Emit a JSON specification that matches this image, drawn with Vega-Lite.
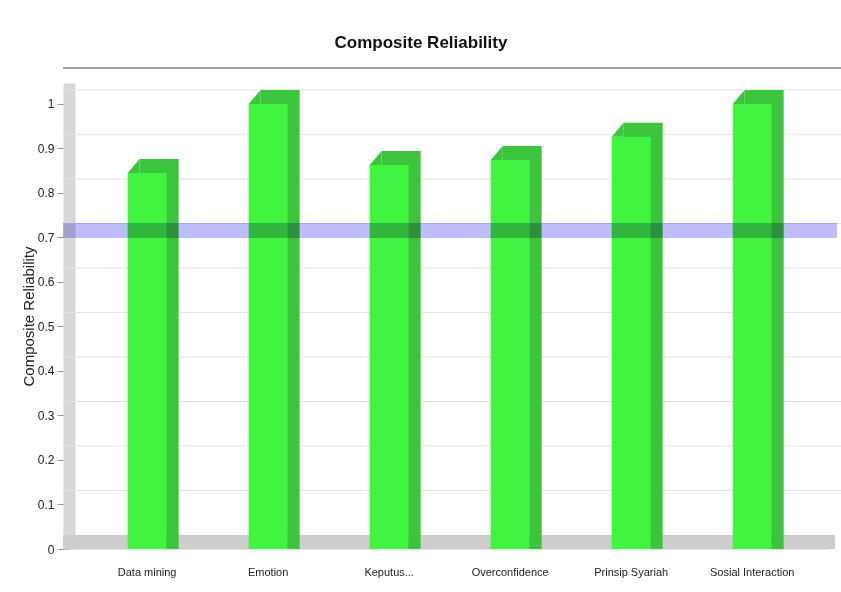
{
  "$schema": "https://vega.github.io/schema/vega-lite/v6.json",
  "width": 766,
  "height": 466,
  "autosize": {"type": "none"},
  "padding": {"left": 63, "top": 83, "right": 12, "bottom": 43},
  "background": "white",
  "title": {
    "text": "Composite Reliability",
    "font": "Liberation Sans, Arial, sans-serif",
    "fontSize": 17,
    "fontWeight": "bold",
    "color": "#111111",
    "anchor": "middle",
    "dx": -25,
    "offset": 15
  },
  "config": {
    "view": {"stroke": null},
    "font": "Liberation Sans, Arial, sans-serif"
  },
  "datasets": {
    "reliability": [
      {"construct": "Data mining", "cr": 0.845},
      {"construct": "Emotion", "cr": 1.0},
      {"construct": "Keputus...", "cr": 0.863},
      {"construct": "Overconfidence", "cr": 0.874},
      {"construct": "Prinsip Syariah", "cr": 0.926},
      {"construct": "Sosial Interaction", "cr": 1.0}
    ],
    "gridTicks": [
      {"v": 0.1}, {"v": 0.2}, {"v": 0.3}, {"v": 0.4}, {"v": 0.5},
      {"v": 0.6}, {"v": 0.7}, {"v": 0.8}, {"v": 0.9}, {"v": 1.0}
    ],
    "single": [{}]
  },
  "layer": [
    {
      "description": "Gridlines on the back wall, pushed back along the depth axis",
      "data": {"name": "gridTicks"},
      "mark": {"type": "rule", "color": "#e3e3e3", "strokeWidth": 1, "xOffset": 12, "yOffset": -14},
      "encoding": {
        "y": {
          "field": "v",
          "type": "quantitative",
          "scale": {"domain": [0, 1.047], "nice": false, "zero": true},
          "axis": {
            "title": "Composite Reliability",
            "titleFont": "Liberation Sans, Arial, sans-serif",
            "titleFontSize": 15,
            "titleFontWeight": "normal",
            "titleColor": "#222222",
            "titlePadding": 1,
            "values": [0, 0.1, 0.2, 0.3, 0.4, 0.5, 0.6, 0.7, 0.8, 0.9, 1],
            "format": "~g",
            "grid": false,
            "offset": -6,
            "domainColor": "#d8d8d8",
            "domainWidth": 12,
            "tickSize": 12,
            "tickColor": "#9a9a9a",
            "labelFontSize": 12,
            "labelColor": "#222222",
            "labelPadding": 3
          }
        }
      }
    },
    {
      "description": "Top edge of the back wall",
      "data": {"name": "single"},
      "mark": {"type": "rule", "color": "#a0a0a0", "strokeWidth": 2, "xOffset": 12, "yOffset": -15},
      "encoding": {"y": {"datum": 1.047, "type": "quantitative", "title": "Composite Reliability"}}
    },
    {
      "description": "Floor, running back to the rear wall",
      "data": {"name": "single"},
      "mark": {"type": "rule", "color": "#cdcdcd", "strokeWidth": 14, "xOffset": 6, "yOffset": -7},
      "encoding": {"y": {"datum": 0, "type": "quantitative", "title": "Composite Reliability"}}
    },
    {
      "description": "Depth of each bar: top and right faces",
      "data": {"name": "reliability"},
      "mark": {"type": "bar", "color": "#3cc43c", "xOffset": 12, "yOffset": -14},
      "encoding": {
        "x": {
          "field": "construct",
          "type": "nominal",
          "sort": null,
          "scale": {"paddingInner": 0.678, "paddingOuter": 0.504, "align": 0.53},
          "axis": {
            "title": null,
            "labelAngle": 0,
            "ticks": false,
            "tickSize": 0,
            "offset": -7,
            "domainColor": "#cdcdcd",
            "domainWidth": 14,
            "labelFontSize": 11,
            "labelColor": "#222222",
            "labelPadding": 24
          }
        },
        "y": {"field": "cr", "type": "quantitative", "title": "Composite Reliability"},
        "y2": {"datum": 0}
      }
    },
    {
      "description": "Front faces of the bars",
      "data": {"name": "reliability"},
      "mark": {"type": "bar", "color": "#40f440"},
      "encoding": {
        "x": {"field": "construct", "type": "nominal", "sort": null},
        "y": {"field": "cr", "type": "quantitative", "title": "Composite Reliability"},
        "y2": {"datum": 0}
      }
    },
    {
      "description": "Bevel at the top-left of each bar's top face",
      "data": {"name": "reliability"},
      "mark": {
        "type": "point",
        "filled": true,
        "opacity": 1,
        "color": "#3cc43c",
        "strokeWidth": 0,
        "size": 196,
        "shape": "M -0.857 1 L 0.857 -1 L 0.857 1 Z",
        "xOffset": -13.5,
        "yOffset": -7
      },
      "encoding": {
        "x": {"field": "construct", "type": "nominal", "sort": null},
        "y": {"field": "cr", "type": "quantitative", "title": "Composite Reliability"}
      }
    },
    {
      "description": "Bevel at the foot of each bar's right face",
      "data": {"name": "reliability"},
      "mark": {
        "type": "point",
        "filled": true,
        "opacity": 1,
        "color": "#3cc43c",
        "strokeWidth": 0,
        "size": 196,
        "shape": "M -0.857 -1 L 0.857 -1 L -0.857 1 Z",
        "xOffset": 25.5,
        "yOffset": -7
      },
      "encoding": {
        "x": {"field": "construct", "type": "nominal", "sort": null},
        "y": {"datum": 0, "type": "quantitative", "title": "Composite Reliability"}
      }
    },
    {
      "description": "0.7 threshold band",
      "data": {"name": "single"},
      "mark": {"type": "rule", "color": "#bdbdfc", "strokeWidth": 15, "blend": "multiply", "xOffset": 8, "yOffset": -7},
      "encoding": {"y": {"datum": 0.7, "type": "quantitative", "title": "Composite Reliability"}}
    }
  ]
}
